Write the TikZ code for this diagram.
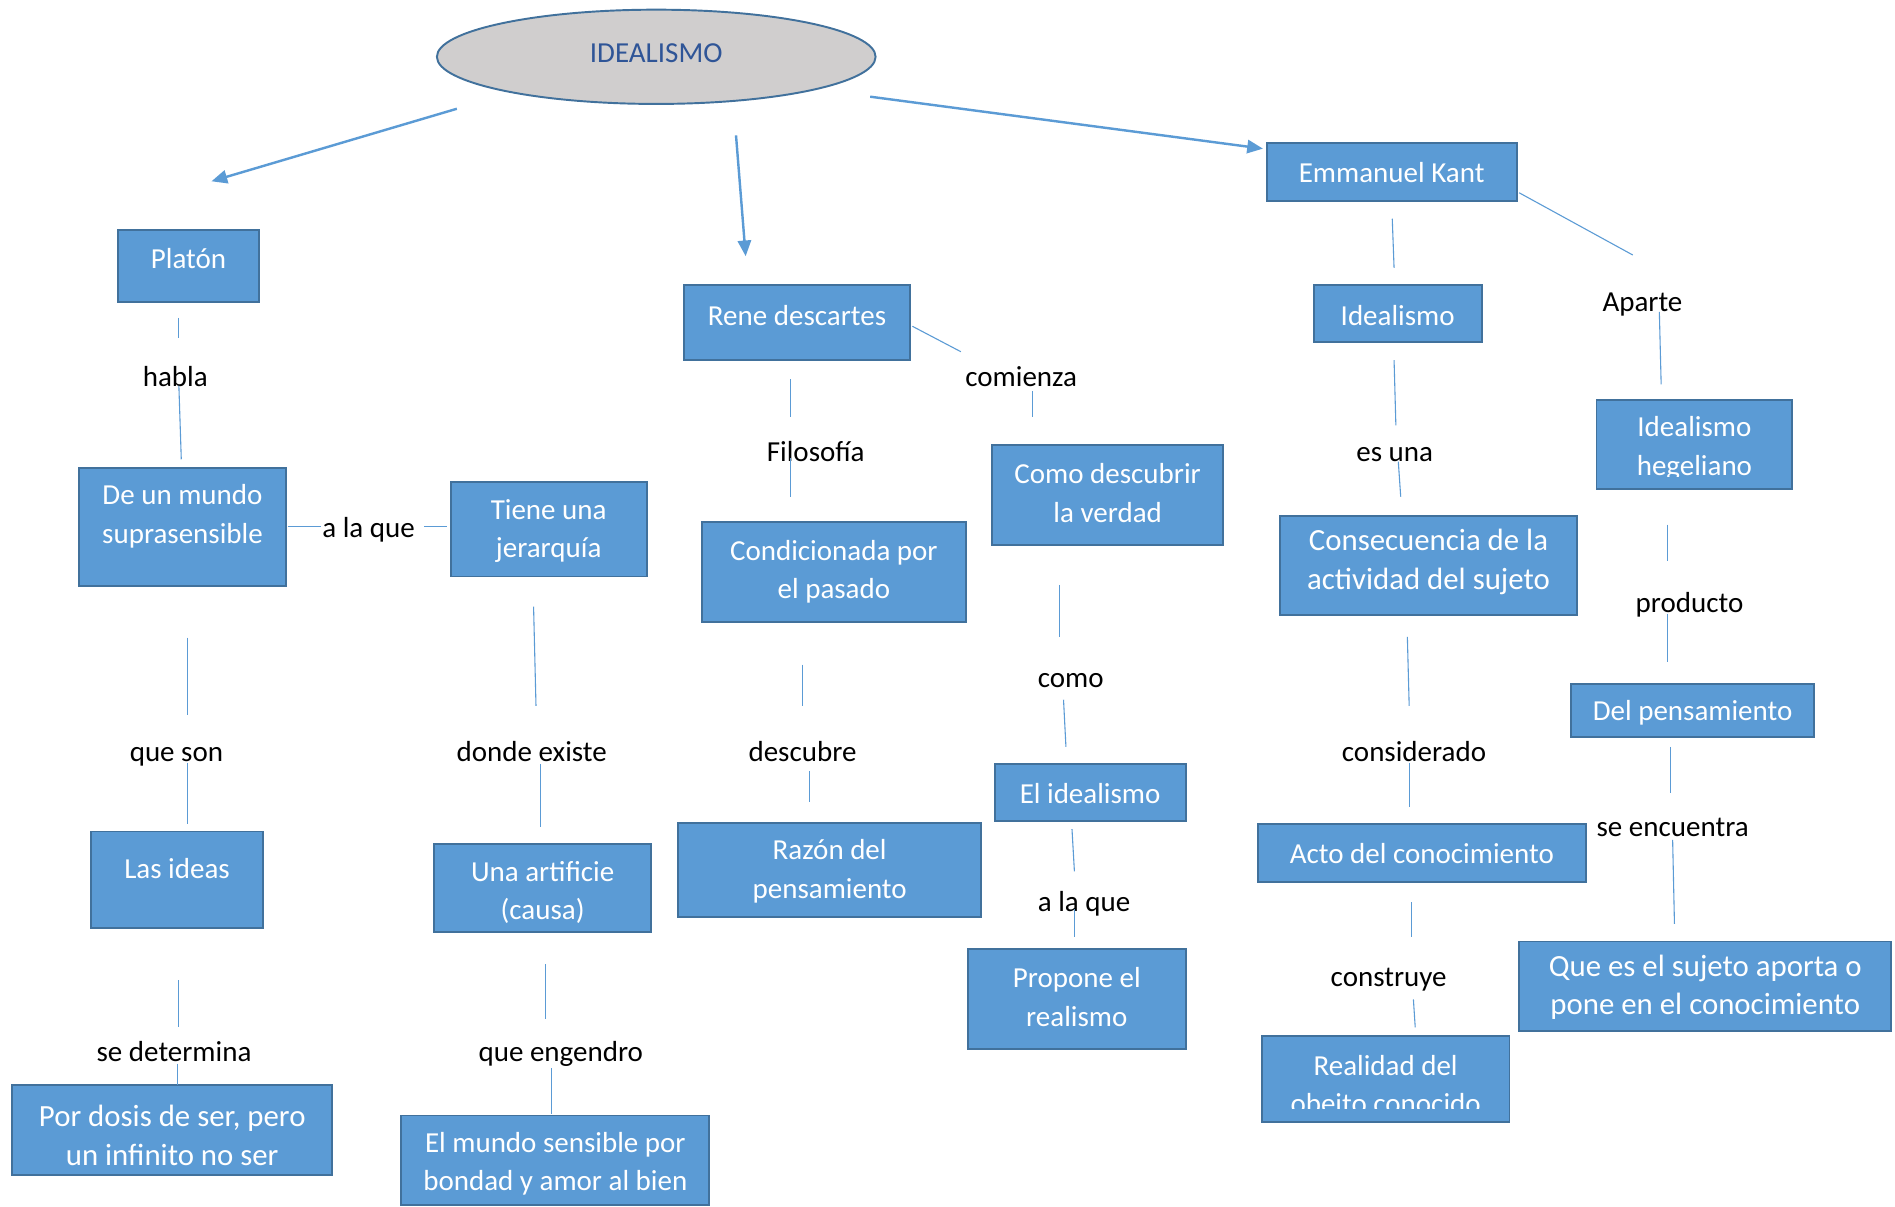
\documentclass[tikz,border=0pt]{standalone}
\usepackage{fontspec}
\setmainfont{Carlito}
\usetikzlibrary{arrows.meta,shapes.geometric}
\definecolor{boxfill}{HTML}{5B9BD5}
\definecolor{boxline}{HTML}{41719C}
\definecolor{ellfill}{HTML}{D0CECE}
\definecolor{elltext}{HTML}{2F5597}
\newcommand\mkbox[5]{\node[box, minimum width={(#4-#2)*1pt}, minimum height={(#5-#3)*1pt}] (#1) at ({(#2+#4)/2},{(#3+#5)/2}) {};}
\begin{document}
\begin{tikzpicture}[x=1pt,y=-1pt,
  box/.style={draw=boxline, fill=boxfill, line width=1.6pt, rectangle, inner sep=0pt},
  btxt/.style={text=white, font=\fontsize{24}{32}\selectfont, align=center, inner sep=0pt},
  bbig/.style={text=white, font=\fontsize{25.5}{32}\selectfont, align=center, inner sep=0pt},
  lbl/.style={text=black, font=\fontsize{24}{32}\selectfont, inner sep=0pt, text height=17pt, text depth=5pt, yshift=-2.5pt},
  conn/.style={draw=boxfill, line width=0.9pt},
  arr/.style={draw=boxfill, line width=2pt, -{Triangle[length=13pt,width=11pt]}}]
\useasboundingbox[fill=white] (0,0) rectangle (1568,998);

% ellipse
\node[ellipse, draw=boxline, fill=ellfill, line width=1.6pt, minimum width=363pt, minimum height=78pt, inner sep=0pt] (root) at (543,47) {};
\node[text=elltext, font=\fontsize{24}{32}\selectfont, inner sep=0pt] (root-t) at (543,44) {IDEALISMO};

% boxes
\mkbox{platon}{98}{190}{214}{250}
\mkbox{rene}{566}{236}{753}{298}
\mkbox{kant}{1048}{118}{1255}{166}
\mkbox{mundo}{65}{387}{237}{485}
\mkbox{tiene}{373}{399}{535}{477}
\mkbox{cond}{581}{432}{799}{515}
\mkbox{como}{821}{368}{1012}{451}
\mkbox{ideal}{1087}{236}{1226}{283}
\mkbox{hegel}{1321}{331}{1483}{405}
\mkbox{consec}{1059}{427}{1305}{509}
\mkbox{ideas}{75}{688}{218}{768}
\mkbox{artif}{359}{698}{539}{771}
\mkbox{razon}{561}{681}{812}{759}
\mkbox{elideal}{823}{632}{981}{679}
\mkbox{propone}{801}{785}{981}{868}
\mkbox{delpens}{1300}{566}{1501}{610}
\mkbox{acto}{1041}{682}{1312}{730}
\mkbox{realidad}{1044}{857}{1249}{928}
\mkbox{quees}{1257}{779}{1565}{853}
\mkbox{dosis}{10}{898}{275}{972}
\mkbox{msens}{332}{923}{587}{997}

% box texts
\node[btxt] (platon-t) at (156,214) {Platón};
\node[btxt] (rene-t) at (659.5,261) {Rene descartes};
\node[btxt] (kant-t) at (1151.5,143) {Emmanuel Kant};
\node[btxt] (mundo-t) at (151,427) {De un mundo\\suprasensible};
\node[btxt] (tiene-t) at (454,439.5) {Tiene una\\jerarquía};
\node[btxt] (cond-t) at (690,473) {Condicionada por\\el pasado};
\node[btxt] (como-t) at (916.5,408) {Como descubrir\\la verdad};
\node[btxt] (ideal-t) at (1156.5,261) {Idealismo};
\begin{scope}
\clip (1321,331) rectangle (1483,394);
\node[btxt] (hegel-t) at (1402,371) {Idealismo\\hegeliano};
\end{scope}
\node[bbig] (consec-t) at (1182,465) {Consecuencia de la\\actividad del sujeto};
\node[btxt] (ideas-t) at (146.5,719) {Las ideas};
\node[btxt] (artif-t) at (449,738.5) {Una artificie\\(causa)};
\node[btxt] (razon-t) at (686.5,721) {Razón del\\pensamiento};
\node[btxt] (elideal-t) at (902,657) {El idealismo};
\node[btxt] (propone-t) at (891,825) {Propone el\\realismo};
\node[btxt] (delpens-t) at (1400.5,590) {Del pensamiento};
\node[btxt] (acto-t) at (1176.5,706) {Acto del conocimiento};
\begin{scope}
\clip (1044,857) rectangle (1249,917);
\node[btxt] (realidad-t) at (1146.5,897.5) {Realidad del\\obeito conocido};
\end{scope}
\node[bbig] (quees-t) at (1411,817) {Que es el sujeto aporta o\\pone en el conocimiento};
\node[bbig] (dosis-t) at (142.5,939.5) {Por dosis de ser, pero\\un infinito no ser};
\begin{scope}
\clip (332,923) rectangle (587,989);
\node[btxt] (msens-t) at (459.5,963) {El mundo sensible por\\bondad y amor al bien};
\end{scope}

% labels
\node[lbl] (l1) at (145,311) {habla};
\node[lbl] (l2) at (305,436) {a la que};
\node[lbl] (l3) at (845,311) {comienza};
\node[lbl] (l4) at (675,373) {Filosofía};
\node[lbl] (l5) at (1359,249) {Aparte};
\node[lbl] (l6) at (1154,373) {es una};
\node[lbl] (l7) at (146,622) {que son};
\node[lbl] (l8) at (440,622) {donde existe};
\node[lbl] (l9) at (664,622) {descubre};
\node[lbl] (l10) at (886,560) {como};
\node[lbl] (l11) at (1398,498) {producto};
\node[lbl] (l12) at (1170,622) {considerado};
\node[lbl] (l13) at (1384,684) {se encuentra};
\node[lbl] (l14) at (897,746) {a la que};
\node[lbl] (l15) at (1149,808) {construye};
\node[lbl] (l16) at (144,870) {se determina};
\node[lbl] (l17) at (464,870) {que engendro};

% arrows
\coordinate (a1s) at (378,90);  \coordinate (a1e) at (175,150);
\coordinate (a2s) at (609,112); \coordinate (a2e) at (617,212);
\coordinate (a3s) at (720,80);  \coordinate (a3e) at (1045,123);
\draw[arr] (a1s) -- (a1e);
\draw[arr] (a2s) -- (a2e);
\draw[arr] (a3s) -- (a3e);

% thin connector segments
\foreach \n/\xa/\ya/\xb/\yb in {
 1/148/263/148/280, 2/148/319/150/380, 3/238/435.6/266/435.6, 4/351/435.6/370/435.6,
 5/654/314/654/345, 6/654/379/654/411, 7/755/270/795/291, 8/441.5/502/443.5/584,
 9/1257/159.5/1351/211, 10/1152/181/1153.5/221.6, 11/1373/258/1374.5/318,
 12/854/323.5/854/345, 13/1153.5/298/1155/352, 14/1157/382/1159/411,
 15/1380/434/1380/464, 16/877/484/877/527, 17/880/579/882/618, 18/887/686/889/721,
 19/889/752/889/775, 20/1164.5/527/1166/584, 21/1166/631/1166/667.5,
 22/1380/507.7/1380/548, 23/1382/618/1382/656, 24/1384/695/1385.5/764.5,
 25/1168/746.6/1168/775, 26/1169.5/827/1171/850, 27/155.5/527.5/155.5/591.5,
 28/155.5/631/155.5/682, 29/447/632.4/447/684, 30/664/550/664/584,
 31/669.5/638/669.5/664, 32/148/811/148/850, 33/146.5/880/146.5/898,
 34/451/798/451/843, 35/456/884/456/922}
{
 \coordinate (s\n a) at (\xa,\ya);
 \coordinate (s\n b) at (\xb,\yb);
 \draw[conn] (s\n a) -- (s\n b);
}
\end{tikzpicture}
\end{document}
